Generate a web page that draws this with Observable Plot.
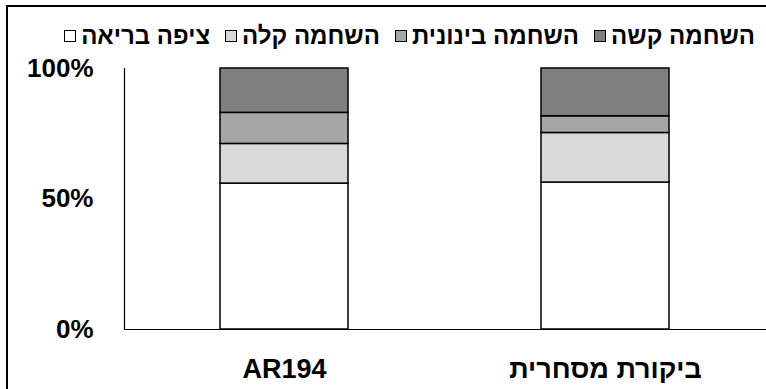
<!DOCTYPE html>
<html>
<head>
<meta charset="utf-8">
<script src="https://cdn.jsdelivr.net/npm/d3@7"></script>
<script src="https://cdn.jsdelivr.net/npm/@observablehq/plot@0.6"></script>
<style>
  html, body { margin: 0; padding: 0; background: #fff; }
  #wrap { position: relative; width: 766px; height: 389px; overflow: hidden; background: #fff;
          font-family: "Liberation Sans", Arial, sans-serif; font-weight: bold; }
  #border { position: absolute; left: 6px; top: 5px; width: 820px; height: 420px;
            border: 2px solid #000; box-sizing: border-box; }
  #chart { position: absolute; left: 0; top: 0; }
  #legend { position: absolute; right: 11px; top: 23px; display: flex; direction: rtl;
            gap: 15px; font-size: 24px; line-height: 26px; color: #000; white-space: nowrap; }
  .item { display: flex; align-items: center; gap: 5px; }
  .sw { width: 12px; height: 12px; border: 1px solid #000; display: inline-block; box-sizing: border-box; }
</style>
</head>
<body>
<div id="wrap">
  <div id="border"></div>
  <div id="chart"></div>
  <div id="legend"></div>
</div>
<script>
const categories = ["AR194", "ביקורת מסחרית"];
const seriesNames = ["ציפה בריאה", "השחמה קלה", "השחמה בינונית", "השחמה קשה"];
const healthy = [0.559, 0.563];
const light = [0.152, 0.190];
const medium = [0.119, 0.064];
const hard = [0.170, 0.183];
const seriesColors = ["#ffffff", "#d9d9d9", "#a6a6a6", "#808080"];
const yTicks = [0, 0.5, 1];

const seriesValues = [healthy, light, medium, hard];
const data = [];
seriesNames.forEach((s, si) => {
  categories.forEach((c, ci) => {
    data.push({category: c, series: s, value: seriesValues[si][ci], order: si});
  });
});

const chart = Plot.plot({
  width: 766,
  height: 389,
  marginLeft: 124,
  marginRight: 0,
  marginTop: 68,
  marginBottom: 60,
  style: {fontFamily: "'Liberation Sans', Arial, sans-serif", fontWeight: "bold", background: "transparent"},
  x: {domain: categories, paddingInner: 0.6, paddingOuter: 0.3, label: null},
  y: {domain: [0, 1], label: null},
  color: {domain: seriesNames, range: seriesColors},
  marks: [
    Plot.barY(data, Plot.stackY({order: "order"}, {
      x: "category", y: "value", fill: "series", stroke: "#000", strokeWidth: 1.5, order: "order"
    })),
    Plot.frame({anchor: "left", stroke: "#000", strokeWidth: 1.2}),
    Plot.frame({anchor: "bottom", stroke: "#000", strokeWidth: 1.2}),
    Plot.axisY({ticks: yTicks, tickFormat: d3.format(".0%"), tickSize: 0, tickPadding: 31,
                fontSize: 26, fill: "#000", label: null}),
    Plot.axisX({tickSize: 0, tickPadding: 29, fontSize: 27, fill: "#000", label: null})
  ]
});
document.getElementById("chart").appendChild(chart);

const legend = document.getElementById("legend");
[...seriesNames].reverse().forEach((name) => {
  const i = seriesNames.indexOf(name);
  const item = document.createElement("div");
  item.className = "item";
  const t = document.createElement("span");
  t.textContent = name;
  const sw = document.createElement("span");
  sw.className = "sw";
  sw.style.background = seriesColors[i];
  item.appendChild(t);
  item.appendChild(sw);
  legend.appendChild(item);
});
</script>
</body>
</html>
